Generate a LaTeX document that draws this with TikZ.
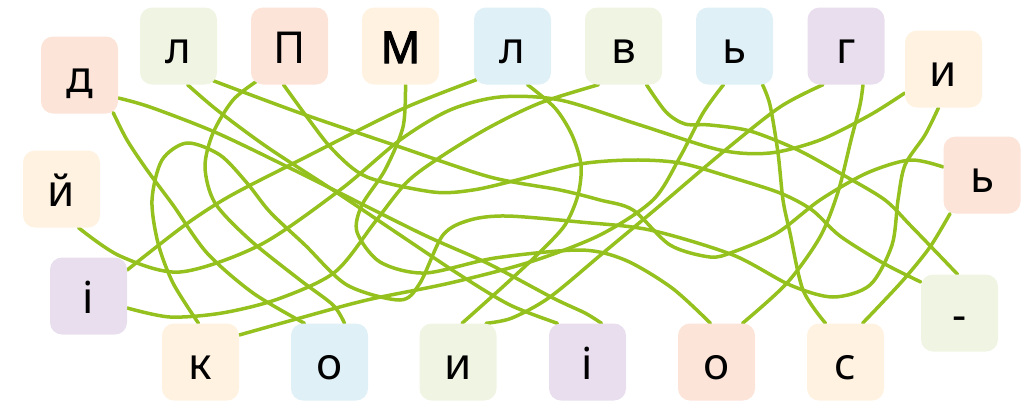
\documentclass[tikz,border=0pt]{standalone}
\usepackage{fontspec}
\setmainfont{Noto Sans}[AutoFakeBold=2.5]
\usetikzlibrary{backgrounds}

\definecolor{tilepink}{HTML}{FCE4D9}
\definecolor{tilegreen}{HTML}{F0F4E3}
\definecolor{tileorange}{HTML}{FFF2E1}
\definecolor{tileblue}{HTML}{DFF0F7}
\definecolor{tilepurple}{HTML}{E8DEEE}
\definecolor{wiregreen}{HTML}{95C11F}

\begin{document}
\begin{tikzpicture}[
  x=1pt, y=-1pt,
  tile/.style={rectangle, rounded corners=12pt, minimum width=77pt, minimum height=77pt,
    inner sep=0pt, text height=34pt, text depth=0pt, font=\fontsize{44}{44}\selectfont},
  pinktile/.style={tile, fill=tilepink},
  greentile/.style={tile, fill=tilegreen},
  orangetile/.style={tile, fill=tileorange},
  bluetile/.style={tile, fill=tileblue},
  purpletile/.style={tile, fill=tilepurple},
  wire/.style={draw=wiregreen, line width=3.5pt, line cap=round}
]
\useasboundingbox (0,0) rectangle (1030,400);

% Top row
\node[pinktile] (d) at (79.5,75) {д};
\node[greentile] (l1) at (178.5,46) {л};
\node[pinktile] (p) at (289.5,46) {П};
\node[orangetile] (m) at (400.5,46) {\bfseries М};
\node[bluetile] (l2) at (512.5,46) {л};
\node[greentile] (v) at (623.5,46) {в};
\node[bluetile] (sb1) at (734.5,46) {ь};
\node[purpletile] (g) at (846,46) {г};
\node[orangetile] (i1) at (943.5,69) {и};

% Sides
\node[pinktile] (sb2) at (982,175) {ь};
\node[orangetile] (j) at (61.5,189) {й};
\node[purpletile] (ii1) at (88.5,296) {і};
\node[greentile] (dash) at (959.5,313) {-};

% Bottom row
\node[orangetile] (k) at (200.5,362) {к};
\node[bluetile] (o1) at (329.5,362) {о};
\node[greentile] (i2) at (458,362) {и};
\node[purpletile] (ii2) at (587.5,362) {і};
\node[pinktile] (o2) at (716.5,362) {о};
\node[orangetile] (s) at (845.5,362) {с};

% Wires
\begin{scope}[on background layer]
\draw[wire] plot[smooth] coordinates {([xshift=5pt]m.south) (403,127) (385,170) (362,205) (357,232) (380,262) (425,273) (495,258) (580,250) (625,260) (672,288) ([xshift=-6pt]o2.north)};
\draw[wire] plot[smooth] coordinates {([xshift=26pt]o2.north) (787,283) (820,237) (838,192) (851,140) (860,105) ([xshift=17pt]g.south)};
\draw[wire] plot[smooth] coordinates {([xshift=-23pt]g.south) (780,107) (723,152) (657,208) (603,253) (550,297) (512,318) ([xshift=28pt]i2.north)};
\draw[wire] plot[smooth] coordinates {([xshift=4pt]i2.north) (507,283) (540,252) (565,225) (578,195) (581,165) (572,135) (555,108) ([xshift=15pt]l2.south)};
\draw[wire] plot[smooth] coordinates {([xshift=-36pt,yshift=5pt]l2.south) (400,110) (300,160) (230,196) (185,225) ([yshift=26pt]ii1.east)};
\draw[wire] plot[smooth] coordinates {([yshift=-12pt]ii1.east) (170,317) (222,313) (278,299) (335,272) (375,222) (407,182) (442,156) (490,127) (540,103) ([xshift=-25pt]v.south)};
\draw[wire] plot[smooth] coordinates {([xshift=23pt]v.south) (666,112) (685,124) (710,125) (750,131) (798,150) (845,176) (885,200) (910,225) (940,256) ([xshift=-2pt]dash.north)};
\draw[wire] plot[smooth] coordinates {([yshift=31pt]dash.west) (883,263) (840,236) (812,210) (780,193) (730,177) (680,163) (633,160) (580,164) (517,180) (473,190) (433,192) (367,177) (333,150) (307,117) ([xshift=-6pt]p.south)};
\draw[wire] plot[smooth] coordinates {([xshift=-32pt,yshift=4pt]p.south) (233,100) (213,133) (205,167) (215,203) (250,240) (300,280) (333,305) ([xshift=15pt]o1.north)};
\draw[wire] plot[smooth] coordinates {([xshift=-25pt]o1.north) (253,293) (207,253) (173,205) (147,170) (127,140) ([xshift=-5pt,yshift=1pt]d.south east)};
\draw[wire] plot[smooth] coordinates {([yshift=-23pt]d.east) (150,107) (217,133) (300,173) (420,233) (487,263) (553,298) (585,313) ([xshift=14pt]ii2.north)};
\draw[wire] plot[smooth] coordinates {([xshift=9pt]l1.south) (217,110) (267,147) (333,190) (400,235) (460,275) (510,305) ([xshift=-30pt]ii2.north)};
\draw[wire] plot[smooth] coordinates {([xshift=-4pt,yshift=4pt]l1.south east) (300,113) (400,147) (490,177) (560,190) (600,200) (633,210) (670,245) (710,257) (733,252) (777,233) (820,200) (867,173) (910,160) ([yshift=8pt]sb2.west)};
\draw[wire] plot[smooth] coordinates {([xshift=-32pt]sb2.south) (930,247) (905,278) (880,305) ([xshift=17pt]s.north)};
\draw[wire] plot[smooth] coordinates {([xshift=-20pt]s.north) (803,290) (790,233) (783,200) (778,153) (770,105) ([xshift=28pt]sb1.south)};
\draw[wire] plot[smooth] coordinates {([xshift=-11pt]sb1.south) (703,113) (680,157) (653,200) (600,235) (530,262) (450,283) (367,300) (300,318) ([yshift=27pt]k.east)};
\draw[wire] plot[smooth] coordinates {([xshift=-2pt]k.north) (173,283) (158,243) (152,200) (162,160) (187,143) (220,155) (247,183) (270,212) (305,245) (347,285) (400,300) (420,283) (443,235) (470,220) (507,216) (580,222) (650,230) (733,255) (790,285) (833,297) (870,285) (892,245) (898,200) (905,165) (925,135) ([xshift=-5pt]i1.south)};
\draw[wire] plot[smooth] coordinates {([yshift=-24pt]i1.west) (870,115) (820,140) (770,153) (720,150) (640,125) (560,100) (500,97) (450,110) (400,140) (340,190) (260,245) (180,272) (120,256) ([xshift=17pt]j.south)};
\end{scope}

\end{tikzpicture}
\end{document}
